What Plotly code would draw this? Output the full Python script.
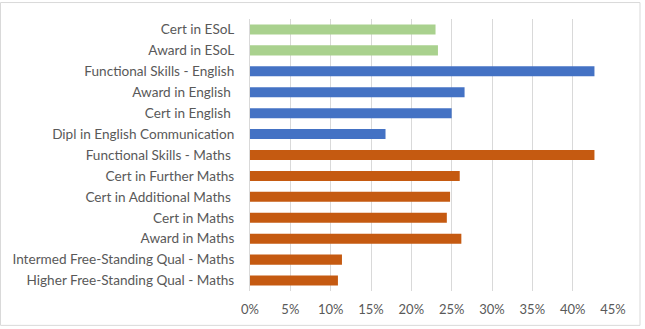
import plotly.graph_objects as go

categories = [
    "Cert in ESoL", "Award in ESoL", "Functional Skills - English", "Award in English ",
    "Cert in English ", "Dipl in English Communication", "Functional Skills - Maths ",
    "Cert in Further Maths", "Cert in Additional Maths ", "Cert in Maths", "Award in Maths",
    "Intermed Free-Standing Qual - Maths", "Higher Free-Standing Qual - Maths",
]
values = [23.0, 23.3, 42.7, 26.6, 25.0, 16.8, 42.7, 26.0, 24.8, 24.4, 26.2, 11.4, 10.9]
groups = ["esol", "esol", "eng", "eng", "eng", "eng", "math", "math", "math", "math", "math", "math", "math"]
group_colors = {"esol": "#A9D18E", "eng": "#4472C4", "math": "#C55A11"}
tick_vals = [0, 5, 10, 15, 20, 25, 30, 35, 40, 45]
tick_text = [f"{v}%" for v in tick_vals]

fig = go.Figure(go.Bar(
    y=categories, x=values, orientation="h",
    marker=dict(color=[group_colors[g] for g in groups], line=dict(width=0)),
    width=0.48,
))

L, R, T, B = 250, 32, 18.5, 37.5
W, H = 645, 329
pw, ph = W - L - R, H - T - B

fig.update_layout(
    width=W, height=H,
    margin=dict(l=L, r=R, t=T, b=B, autoexpand=False),
    paper_bgcolor="white", plot_bgcolor="white",
    showlegend=False,
    font=dict(family="Lato", size=13.6, color="#595959"),
    xaxis=dict(range=[0, 45], tickvals=tick_vals, ticktext=tick_text,
               showgrid=True, gridcolor="#D9D9D9", gridwidth=1, zeroline=False,
               showline=False, ticks="", ticklabelstandoff=9, fixedrange=True,
               tickfont=dict(size=13)),
    yaxis=dict(autorange="reversed", showgrid=False, zeroline=False,
               showline=True, linecolor="#D9D9D9", ticks="", ticklabelstandoff=12,
               fixedrange=True),
    shapes=[dict(type="rect", xref="paper", yref="paper",
                 x0=(0.5 - L) / pw, x1=(640 - L) / pw,
                 y0=(H - B - 326) / ph, y1=(H - B - 2) / ph,
                 line=dict(color="#D9D9D9", width=1), fillcolor="rgba(0,0,0,0)", layer="below")],
)

fig.write_html("out.html")
